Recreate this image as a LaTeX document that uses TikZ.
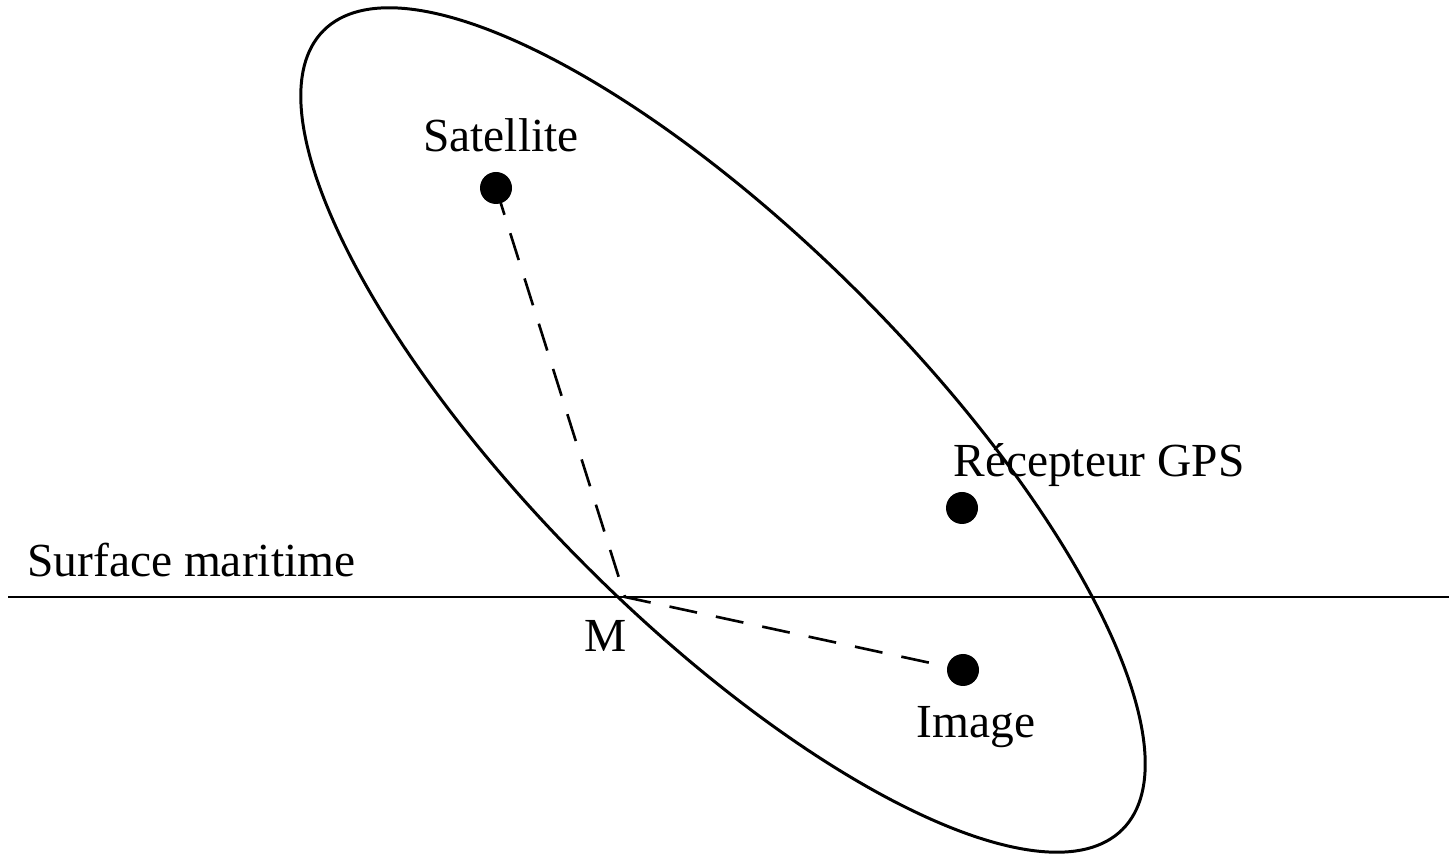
\documentclass[tikz,border=0pt]{standalone}
\usepackage{fontspec}
\setmainfont{Liberation Serif}
\begin{document}
\begin{tikzpicture}[x=0.02cm,y=0.02cm,
  lbl/.style={inner sep=0pt,font=\fontsize{27}{32}\selectfont},
  dot/.style={circle,fill=black,inner sep=0pt,minimum size=0.64cm},
  conn/.style={line width=1.5pt,dash pattern=on 16pt off 11pt}]
\useasboundingbox (0,0) rectangle (1449,854);
% ellipse
\draw[line width=1.7pt,rotate around={-45:(723,424)}] (723,424) ellipse [x radius=11.3cm, y radius=3.86cm];
% sea surface
\coordinate (L) at (8,257);
\coordinate (R) at (1449,257);
\draw[line width=1.5pt] (L) -- (R);
% points
\node[dot] (sat) at (496,666) {};
\node[dot] (rec) at (962,346) {};
\node[dot] (img) at (963,184) {};
\coordinate (M) at (625,257);
% connectors
\draw[conn] (sat.center) -- (M) -- (img.center);
% labels
\node[lbl,anchor=base] (tsat) at (501,702) {Satellite};
\node[lbl,anchor=base west] (tsurf) at (27,277) {Surface maritime};
\node[lbl,anchor=base west] (trec) at (953,377) {Récepteur GPS};
\node[lbl,anchor=base] (tm) at (606,202) {M};
\node[lbl,anchor=base] (timg) at (976,116) {Image};
\end{tikzpicture}
\end{document}
